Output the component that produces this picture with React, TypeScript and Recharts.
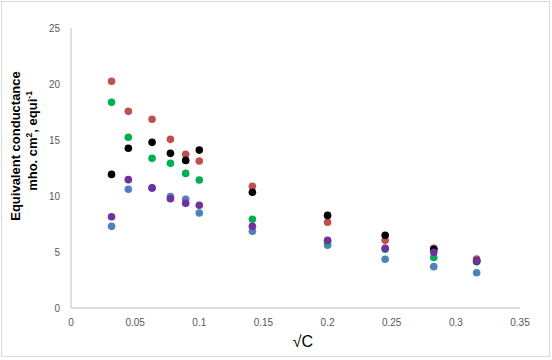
import React from "react";
import { ScatterChart, Scatter, XAxis, YAxis, Customized } from "recharts";

const sqrtC = [0.0316, 0.0447, 0.0632, 0.0775, 0.0894, 0.1, 0.1414, 0.2, 0.2449, 0.2828, 0.3162];
const blueValues = [7.29, 10.6, 10.7, 9.94, 9.7, 8.48, 6.85, 5.6, 4.35, 3.69, 3.15];
const redValues = [20.24, 17.56, 16.85, 15.06, 13.72, 13.13, 10.86, 7.65, 6.04, 5.33, 4.38];
const greenValues = [18.36, 15.24, 13.36, 12.92, 12.02, 11.43, 7.92, 5.92, 5.24, 4.52, 4.14];
const blackValues = [11.93, 14.26, 14.79, 13.81, 13.18, 14.1, 10.33, 8.27, 6.49, 5.24, 4.2];
const purpleValues = [8.15, 11.46, 10.74, 9.76, 9.35, 9.17, 7.29, 6.04, 5.33, 4.97, 4.2];
const xTicks = [0, 0.05, 0.1, 0.15, 0.2, 0.25, 0.3, 0.35];
const yTicks = [0, 5, 10, 15, 20, 25];

const toData = (vals: number[]) => sqrtC.map((x, i) => ({ x, y: vals[i] }));

const series = [
  { name: "blue", color: "#4F81BD", data: toData(blueValues) },
  { name: "red", color: "#C0504D", data: toData(redValues) },
  { name: "green", color: "#00B050", data: toData(greenValues) },
  { name: "black", color: "#000000", data: toData(blackValues) },
  { name: "purple", color: "#7030A0", data: toData(purpleValues) },
];

const dot = (color: string) => (props: any) => (
  <circle cx={props.cx} cy={props.cy} r={3.8} fill={color} />
);

const tickStyle = { fontSize: 10, fill: "#595959", fontFamily: "Liberation Sans, Arial, sans-serif" };

const Labels = () => (
  <g fontFamily="Liberation Sans, Arial, sans-serif">
    <rect x={1.5} y={1.5} width={548} height={355} fill="none" stroke="#D9D9D9" strokeWidth={1} />
    <text x={20} y={146} transform="rotate(-90, 20, 146)" textAnchor="middle" fontSize={13} fontWeight="bold" fill="#000">
      Equivalent conductance
    </text>
    <text x={37} y={141} transform="rotate(-90, 37, 141)" textAnchor="middle" fontSize={13} fontWeight="bold" fill="#000">
      <tspan>mho. cm</tspan>
      <tspan dy={-5} fontSize={8.5}>2</tspan>
      <tspan dy={5}>, equi</tspan>
      <tspan dy={-5} fontSize={8.5}>-1</tspan>
    </text>
    <text x={303} y={347} textAnchor="middle" fontSize={16} fill="#000">
      √C
    </text>
  </g>
);

export default function App() {
  return (
    <div style={{ position: "absolute", left: 0, top: 0, background: "#fff" }}>
      <ScatterChart width={552} height={360} margin={{ top: 28, right: 32, bottom: 0, left: 0 }}>
        <XAxis
          type="number"
          dataKey="x"
          domain={[0, 0.35]}
          ticks={xTicks}
          interval={0}
          height={52}
          tickLine={false}
          tickSize={6}
          tickMargin={5}
          axisLine={{ stroke: "#BFBFBF" }}
          tick={tickStyle}
        />
        <YAxis
          type="number"
          dataKey="y"
          domain={[0, 25]}
          ticks={yTicks}
          interval={0}
          width={71}
          tickLine={false}
          tickSize={6}
          tickMargin={5}
          axisLine={{ stroke: "#BFBFBF" }}
          tick={tickStyle}
        />
        {series.map((s) => (
          <Scatter key={s.name} name={s.name} data={s.data} fill={s.color} shape={dot(s.color)} isAnimationActive={false} />
        ))}
        <Customized component={Labels} />
      </ScatterChart>
    </div>
  );
}
